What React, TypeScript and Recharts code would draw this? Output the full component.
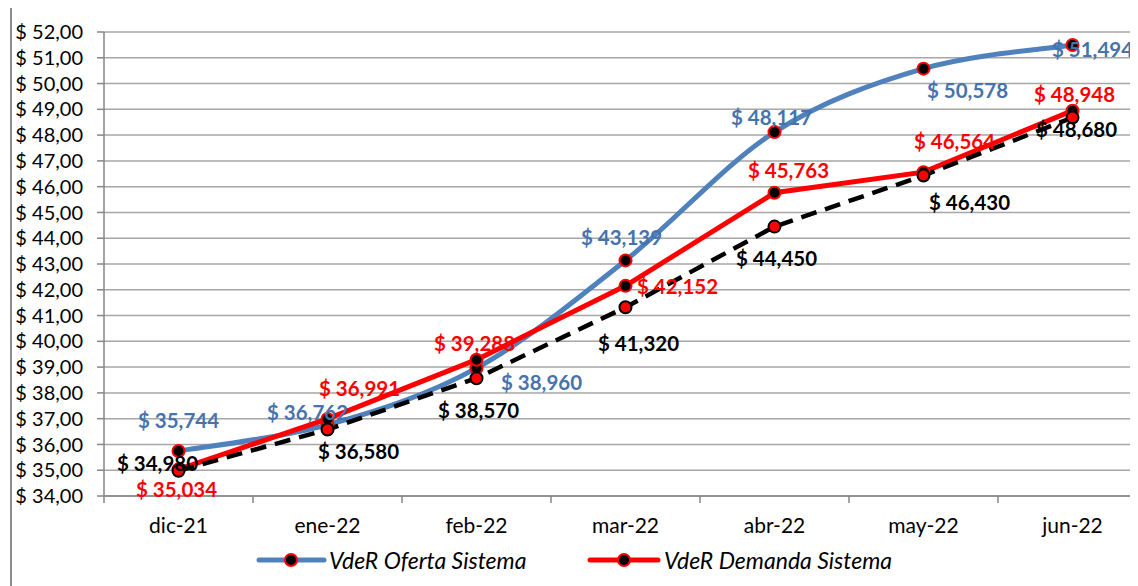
import React from 'react';
import { LineChart, Line, XAxis, YAxis, CartesianGrid, Legend, LabelList } from 'recharts';

const categories = ['dic-21', 'ene-22', 'feb-22', 'mar-22', 'abr-22', 'may-22', 'jun-22'];
const oferta = [35.744, 36.762, 38.96, 43.139, 48.117, 50.578, 51.494];
const demanda = [35.034, 36.991, 39.288, 42.152, 45.763, 46.564, 48.948];
const referencia = [34.98, 36.58, 38.57, 41.32, 44.45, 46.43, 48.68];
const yTicks = [34, 35, 36, 37, 38, 39, 40, 41, 42, 43, 44, 45, 46, 47, 48, 49, 50, 51, 52];

// label offsets (style only): [dx, dy] from the point
const ofertaLabelOffsets = [[0, -31], [-20, -13], [65, 14], [-4, -23], [-3, -15], [44, 21], [20, 4]];
const demandaLabelOffsets = [[-2, 20], [32, -31], [-2, -17], [52, 0], [14, -23], [31, -31], [2, -17]];
const referenciaLabelOffsets = [[-21, -8], [31, 22], [2, 32], [13, 36], [2, 31], [46, 26], [4, 11]];

const data = categories.map((c, i) => ({
  cat: c,
  oferta: oferta[i],
  demanda: demanda[i],
  referencia: referencia[i],
}));

const FONT = 'Lato, "Open Sans", sans-serif';
const BLUE = '#4F81BD';
const BLUE_TXT = '#4673AD';
const RED = '#FF0000';
const GRID = '#A6A6A6';

const fmtVal = (v: number) => '$ ' + v.toFixed(3).replace('.', ',');
const fmtTick = (v: number) => '$ ' + v.toFixed(2).replace('.', ',');

// Catmull-Rom style smoothing (like spreadsheet "smoothed line")
const smoothCurve = (context: any) => {
  let pts: number[][] = [];
  return {
    areaStart() {},
    areaEnd() {},
    lineStart() {
      pts = [];
    },
    point(x: number, y: number) {
      pts.push([+x, +y]);
    },
    lineEnd() {
      if (!pts.length) return;
      context.moveTo(pts[0][0], pts[0][1]);
      for (let i = 0; i < pts.length - 1; i++) {
        const p0 = pts[i - 1] || pts[i];
        const p1 = pts[i];
        const p2 = pts[i + 1];
        const p3 = pts[i + 2] || pts[i + 1];
        context.bezierCurveTo(
          p1[0] + (p2[0] - p0[0]) / 6,
          p1[1] + (p2[1] - p0[1]) / 6,
          p2[0] - (p3[0] - p1[0]) / 6,
          p2[1] - (p3[1] - p1[1]) / 6,
          p2[0],
          p2[1]
        );
      }
    },
  };
};

const makeLabel = (offsets: number[][], color: string) => (props: any) => {
  const { x, y, value, index } = props;
  const [dx, dy] = offsets[index] || [0, 0];
  return (
    <text
      key={'l' + index}
      x={x + dx}
      y={y + dy}
      textAnchor="middle"
      dominantBaseline="central"
      fill={color}
      fontFamily={FONT}
      fontWeight={700}
      fontSize={20.5}
    >
      {fmtVal(value)}
    </text>
  );
};

const makeDot = (fill: string, stroke: string) => (props: any) => {
  const { cx, cy, index } = props;
  return <circle key={'d' + index} cx={cx} cy={cy} r={6} fill={fill} stroke={stroke} strokeWidth={2} />;
};

const XTick = (props: any) => {
  const { x, y, payload, index } = props;
  const half = 74.5;
  return (
    <g>
      <line x1={x - half} x2={x - half} y1={y} y2={y + 7} stroke="#868686" strokeWidth={1.5} />
      {index === categories.length - 1 && (
        <line x1={x + half} x2={x + half} y1={y} y2={y + 7} stroke="#868686" strokeWidth={1.5} />
      )}
      <text x={x} y={y + 28} textAnchor="middle" dominantBaseline="central" fontFamily={FONT} fontSize={21} fill="#000">
        {payload.value}
      </text>
    </g>
  );
};

const LegendContent = () => (
  <svg width={1160} height={30} style={{ display: 'block' }}>
    <line x1={247} x2={312} y1={15} y2={15} stroke={BLUE} strokeWidth={5} strokeLinecap="round" />
    <circle cx={279} cy={15} r={6} fill="#000" stroke={RED} strokeWidth={2} />
    <text x={317} y={15} dominantBaseline="central" fontFamily={FONT} fontStyle="italic" fontSize={23} fill="#000">
      VdeR Oferta Sistema
    </text>
    <line x1={578} x2={646} y1={15} y2={15} stroke={RED} strokeWidth={5} strokeLinecap="round" />
    <circle cx={612} cy={15} r={6} fill="#000" stroke={RED} strokeWidth={2} />
    <text x={652} y={15} dominantBaseline="central" fontFamily={FONT} fontStyle="italic" fontSize={23} fill="#000">
      VdeR Demanda Sistema
    </text>
  </svg>
);

export default function App() {
  return (
    <div style={{ position: 'relative', width: 1130, height: 578, overflow: 'hidden' }}>
      <div
        style={{
          position: 'absolute',
          left: 2,
          top: -2,
          width: 1160,
          height: 600,
          border: '2px solid #8C8C8C',
          background: '#fff',
        }}
      >
        <LineChart
          width={1160}
          height={600}
          data={data}
          margin={{ top: 24, right: 25, bottom: 72, left: 0 }}
        >
          <CartesianGrid horizontal vertical={false} stroke={GRID} strokeWidth={1.5} />
          <XAxis
            dataKey="cat"
            padding={{ left: 74.5, right: 74.5 }}
            tickLine={false}
            tickSize={0}
            tickMargin={0}
            height={40}
            axisLine={{ stroke: '#868686', strokeWidth: 1.5 }}
            tick={<XTick />}
            interval={0}
          />
          <YAxis
            domain={[34, 52]}
            ticks={yTicks}
            width={92}
            tickSize={7}
            tickMargin={14}
            tickFormatter={fmtTick}
            axisLine={{ stroke: '#868686', strokeWidth: 1.5 }}
            tickLine={{ stroke: '#868686', strokeWidth: 1.5 }}
            tick={{ fontFamily: FONT, fontSize: 20, fill: '#000' }}
            interval={0}
            allowDataOverflow
          />
          <Legend
            layout="horizontal"
            verticalAlign="middle"
            align="center"
            wrapperStyle={{ left: 0, top: 537, width: 1160 }}
            content={<LegendContent />}
          />
          <Line
            name="VdeR Oferta Sistema"
            dataKey="oferta"
            type={smoothCurve as any}
            stroke={BLUE}
            strokeWidth={5}
            dot={makeDot('#000', RED)}
            activeDot={false}
            isAnimationActive={false}
          >
            <LabelList dataKey="oferta" content={makeLabel(ofertaLabelOffsets, BLUE_TXT)} />
          </Line>
          <Line
            name="VdeR Demanda Sistema"
            dataKey="demanda"
            type="linear"
            stroke={RED}
            strokeWidth={5}
            dot={makeDot('#000', RED)}
            activeDot={false}
            isAnimationActive={false}
          >
            <LabelList dataKey="demanda" content={makeLabel(demandaLabelOffsets, RED)} />
          </Line>
          <Line
            name="Referencia"
            dataKey="referencia"
            type="linear"
            stroke="#000"
            strokeWidth={4.5}
            strokeDasharray="16 9"
            dot={makeDot(RED, '#000')}
            activeDot={false}
            legendType="none"
            isAnimationActive={false}
          >
            <LabelList dataKey="referencia" content={makeLabel(referenciaLabelOffsets, '#000')} />
          </Line>
        </LineChart>
      </div>
    </div>
  );
}
